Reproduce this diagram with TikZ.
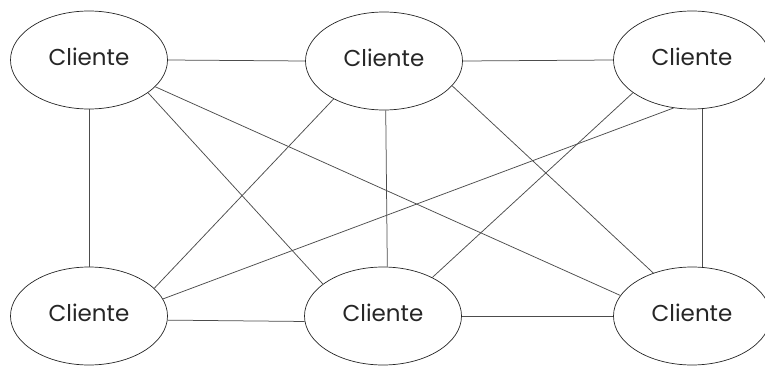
\documentclass[tikz,border=0pt]{standalone}
\usepackage{fontspec}
\setmainfont{Poppins}
\usetikzlibrary{shapes.geometric}
% label text sits a little above the ellipse centre
\newcommand{\clientlabel}{\raisebox{3pt}[\height][\depth]{Cliente}}
\begin{document}
\begin{tikzpicture}[x=1pt,y=1pt,
  cliente/.style={ellipse, draw=black!85, line width=0.7pt, minimum width=157pt,
    minimum height=98pt, inner sep=0pt, font=\fontsize{23}{26}\selectfont, text=black!85},
  link/.style={draw=black!70, line width=0.75pt}]
\useasboundingbox (0,0) rectangle (765,365);
% top row
\node[cliente] (tl) at (89,305) {\clientlabel};
\node[cliente] (tm) at (384,304) {\clientlabel};
\node[cliente] (tr) at (692,305) {\clientlabel};
% bottom row
\node[cliente] (bl) at (89,49) {\clientlabel};
\node[cliente] (bm) at (383,49) {\clientlabel};
\node[cliente] (br) at (692,49) {\clientlabel};
% horizontal links
\draw[link] (tl.0) -- (tm.180);
\draw[link] (tm.0) -- (tr.180);
\draw[link] (bl.-3.7) -- (bm.-176.4);
\draw[link] (bm.0) -- (br.180);
% vertical links
\draw[link] (tl.-90) -- (bl.90);
\draw[link] (tm.-88) -- (bm.85);
\draw[link] (tr.-78.5) -- (br.78.5);
% diagonal links
\draw[link] (tl.-29.8) -- (bm.152.7);
\draw[link] (tl.-22.4) -- (br.164.6);
\draw[link] (tm.-143.8) -- (bl.23);
\draw[link] (tm.-20.2) -- (br.132.1);
\draw[link] (tr.-111.6) -- (bl.13.7);
\draw[link] (tr.-151.6) -- (bm.38.4);
\end{tikzpicture}
\end{document}
